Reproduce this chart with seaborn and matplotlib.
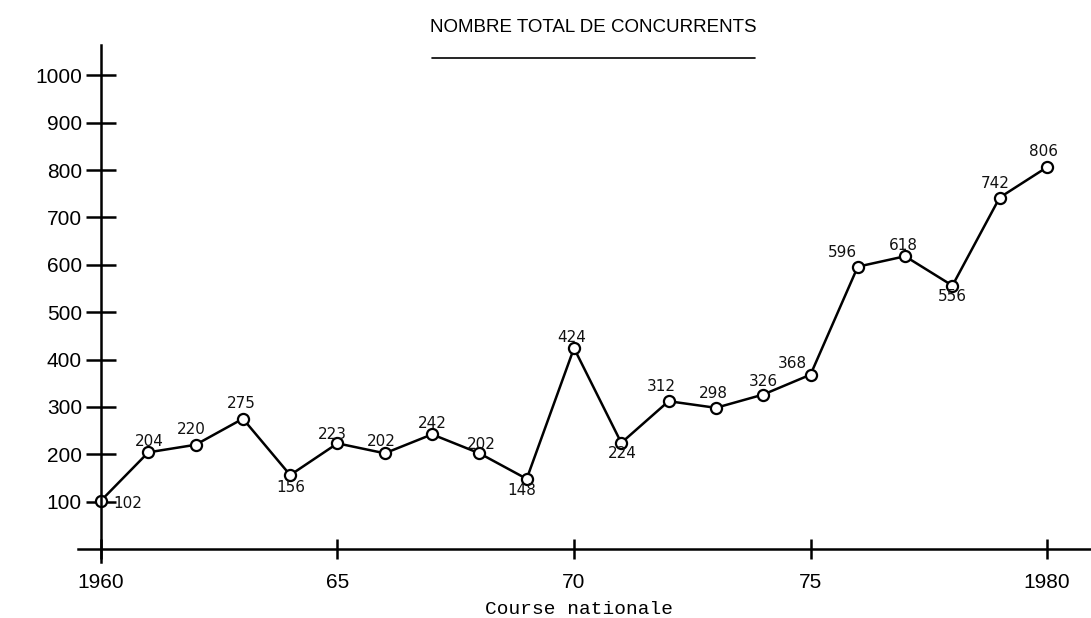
import matplotlib
matplotlib.use("Agg")
import matplotlib.pyplot as plt
import seaborn as sns
import pandas as pd
from matplotlib.lines import Line2D

# Données - nombre total de concurrents, course nationale
annees = [1960, 1961, 1962, 1963, 1964, 1965, 1966, 1967, 1968, 1969, 1970,
          1971, 1972, 1973, 1974, 1975, 1976, 1977, 1978, 1979, 1980]
concurrents = [102, 204, 220, 275, 156, 223, 202, 242, 202, 148, 424,
               224, 312, 298, 326, 368, 596, 618, 556, 742, 806]
x_ticks = [1960, 1965, 1970, 1975, 1980]
x_labels = ["1960", "65", "70", "75", "1980"]
y_ticks = [100, 200, 300, 400, 500, 600, 700, 800, 900, 1000]

# décalage des étiquettes (pixels, dx / dy vers le haut)
decalages = [(27, -3), (1, 11), (-4, 15), (-2, 15), (1, -12), (-5, 9), (-3, 12),
             (0, 11), (2, 9), (-5, -12), (-2, 11), (1, -11), (-7, 15), (-3, 14),
             (0, 13), (-18, 11), (-15, 14), (-2, 11), (0, -11), (-5, 14), (-4, 16)]

df = pd.DataFrame({"annee": annees, "n": concurrents})

sns.set_style("white")
plt.rcParams["font.family"] = ["Liberation Sans", "DejaVu Sans"]
plt.rcParams["text.color"] = "black"

W, H = 1091, 618
fig = plt.figure(figsize=(W / 100, H / 100), dpi=100)
ax = fig.add_axes([78 / W, (H - 562) / H, 1 - 78 / W, (562 - 45) / H])

sns.lineplot(data=df, x="annee", y="n", ax=ax, color="black", linewidth=1.8,
             marker="o", markersize=8, markerfacecolor="white",
             markeredgecolor="black", markeredgewidth=1.6)

ax.set_xlim(1959.514, 1980.93)
ax.set_ylim(-27.5, 1064)

for s in ["top", "right"]:
    ax.spines[s].set_visible(False)
ax.spines["left"].set_position(("data", 1960))
ax.spines["bottom"].set_position(("data", 0))
for s in ["left", "bottom"]:
    ax.spines[s].set_linewidth(1.8)
    ax.spines[s].set_color("black")

ax.set_xticks(x_ticks)
ax.set_xticklabels(x_labels)
ax.set_yticks(y_ticks)
ax.tick_params(axis="y", left=True, direction="inout", length=22, width=1.8,
               pad=2.7, labelsize=15, colors="black")
ax.tick_params(axis="x", bottom=True, direction="inout", length=14, width=1.8,
               pad=10, labelsize=15, colors="black")
for t in ax.yaxis.get_major_ticks():
    if t.get_loc() in (500, 1000):
        t.tick1line.set_markersize(28)

ax.set_xlabel("")
ax.set_ylabel("")

for x, y, (dx, dy) in zip(annees, concurrents, decalages):
    ax.annotate(str(y), (x, y), xytext=(dx * 0.72, dy * 0.72),
                textcoords="offset points", ha="center", va="center",
                fontsize=11, family="DejaVu Sans", color="#111111")

fig.text(593 / W, 1 - 27 / H, "NOMBRE TOTAL DE CONCURRENTS",
         ha="center", va="center", fontsize=13.5, color="black")
fig.add_artist(Line2D([432 / W, 755 / W], [1 - 58 / H, 1 - 58 / H],
                      color="black", linewidth=1.2, transform=fig.transFigure))
fig.text(579 / W, 1 - 609 / H, "Course nationale", ha="center", va="center",
         fontsize=14, family="Liberation Mono", color="black")

fig.savefig("out.png", dpi=100)
